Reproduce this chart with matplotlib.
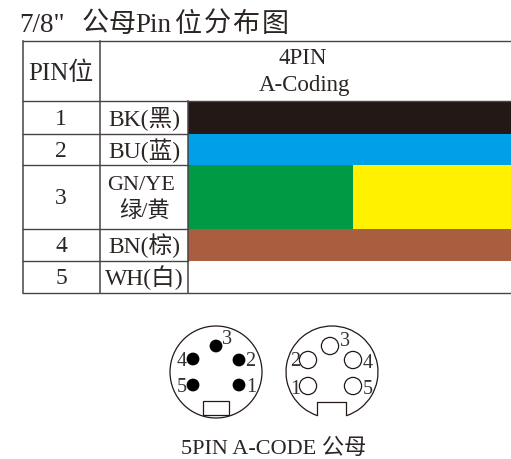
import matplotlib
matplotlib.use('Agg')
import matplotlib.pyplot as plt
from matplotlib.patches import Rectangle, Circle, Arc

FONT = ['Liberation Serif', 'Noto Sans CJK SC']
INK = '#231815'
GRID = '#4a4444'

title_parts = ['7/8"', '公', '母', 'Pin', '位', '分', '布', '图']
title_x = [19, 82, 108, 135, 175, 204, 232, 262]
pin_header = 'PIN位'
coding_lines = ['4PIN', 'A-Coding']
pins = ['1', '2', '3', '4', '5']
wires = ['BK(黑)', 'BU(蓝)', 'GN/YE\n绿/黄', 'BN(棕)', 'WH(白)']
wire_colors = [['#231815'], ['#00a0e9'], ['#009944', '#fff100'], ['#a95e40'], ['#ffffff']]
caption = '5PIN A-CODE 公母'

row_edges = [41, 101, 134, 165, 229, 261, 293]
col_edges = [23, 100, 188, 512]
split_x = 353

male_pins = {'3': (216, 346), '4': (193, 359), '2': (239, 360), '5': (193, 385), '1': (239, 385)}
male_labels = {'3': (227, 340), '4': (182, 362), '2': (250, 362), '5': (182, 388), '1': (251, 388)}
female_pins = {'3': (330, 346), '2': (308, 360), '4': (353, 360), '1': (308, 386), '5': (353, 386)}
female_labels = {'3': (345, 342), '2': (295, 362), '4': (368, 363), '1': (295, 389), '5': (368, 389)}


def label(ax, x, y, s, size, ha='center', color='#2b2523'):
    ax.text(x, y, s, fontsize=size, ha=ha, va='center', color=color, family=FONT)


fig = plt.figure(figsize=(5.11, 4.59), dpi=100)
ax = fig.add_axes([0, 0, 1, 1])
ax.set_xlim(0, 511)
ax.set_ylim(459, 0)
ax.axis('off')

for part, x in zip(title_parts, title_x):
    label(ax, x, 25, part, 19.5, ha='left')

# coloured wire bands first, the grid goes on top
for i, colors in enumerate(wire_colors):
    top, bottom = row_edges[i + 1], row_edges[i + 2]
    if len(colors) == 2:
        ax.add_patch(Rectangle((col_edges[2], top), split_x - col_edges[2], bottom - top, color=colors[0], lw=0))
        ax.add_patch(Rectangle((split_x, top), col_edges[3] - split_x, bottom - top, color=colors[1], lw=0))
    else:
        ax.add_patch(Rectangle((col_edges[2], top), col_edges[3] - col_edges[2], bottom - top, color=colors[0], lw=0))

# table lines
for y in row_edges:
    ax.plot([col_edges[0], col_edges[2] if y not in (41, 101, 293) else col_edges[3]], [y, y], color=GRID, lw=1)
ax.plot([col_edges[0]] * 2, [41, 293], color=GRID, lw=1.1)
ax.plot([col_edges[1]] * 2, [41, 293], color=GRID, lw=1.1)
ax.plot([col_edges[2]] * 2, [101, 293], color=GRID, lw=1.1)

label(ax, 61, 73, pin_header, 18)
label(ax, 303, 59, coding_lines[0], 16.5)
label(ax, 304, 86, coding_lines[1], 16.5)

for i, (pin, wire) in enumerate(zip(pins, wires)):
    mid = (row_edges[i + 1] + row_edges[i + 2]) / 2
    label(ax, 61, mid + 2, pin, 17)
    if '\n' in wire:
        top_line, bottom_line = wire.split('\n')
        label(ax, 141, mid - 11, top_line, 16)
        label(ax, 145, mid + 15, bottom_line, 16)
    else:
        label(ax, 144, mid + 1, wire, 17)

# male connector
ax.add_patch(Circle((216, 372), 46, fill=False, ec=INK, lw=0.9))
ax.add_patch(Rectangle((203, 401), 26, 14, fill=False, ec=INK, lw=0.9))
for name, xy in male_pins.items():
    ax.add_patch(Circle(xy, 6.4, color='black', lw=0))
    label(ax, *male_labels[name], name, 14.5, color='#333333')

# female connector, the outline stops at the notch
ax.add_patch(Arc((332, 372), 92, 92, theta1=108.5, theta2=431.5, ec=INK, lw=0.9))
ax.plot([317, 317, 346, 346], [415, 402, 402, 415], color=INK, lw=0.9)
for name, xy in female_pins.items():
    ax.add_patch(Circle(xy, 8.6, fill=False, ec=INK, lw=0.9))
    label(ax, *female_labels[name], name, 14.5, color='#333333')

label(ax, 274, 449, caption, 16)

fig.savefig('out.png', dpi=100)
